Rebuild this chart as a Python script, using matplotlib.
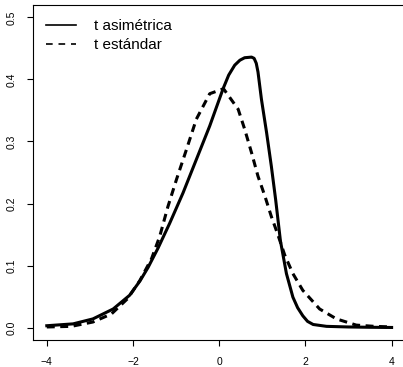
import matplotlib
matplotlib.use("Agg")
import matplotlib.pyplot as plt

# valores
x_asim = [-4.0, -3.39, -2.93, -2.46, -2.08, -1.84, -1.65, -1.42, -1.15, -0.84,
          -0.53, -0.22, 0.09, 0.22, 0.36, 0.48, 0.59, 0.75, 0.81, 0.86,
          0.90, 0.98, 1.10, 1.21, 1.31, 1.42, 1.56, 1.71, 1.82, 1.94,
          2.05, 2.18, 2.49, 3.0, 3.5, 4.0]
y_asim = [0.003, 0.006, 0.014, 0.030, 0.052, 0.075, 0.097, 0.128, 0.168, 0.217,
          0.271, 0.325, 0.385, 0.407, 0.423, 0.431, 0.435, 0.436, 0.434, 0.426,
          0.412, 0.368, 0.314, 0.260, 0.206, 0.140, 0.087, 0.049, 0.032, 0.019,
          0.010, 0.005, 0.002, 0.001, 0.0005, 0.0002]

x_std = [-4.0, -3.43, -2.93, -2.50, -2.12, -1.84, -1.57, -1.38, -1.19, -0.99,
         -0.76, -0.53, -0.22, 0.10, 0.44, 0.59, 0.75, 0.90, 1.06, 1.21,
         1.36, 1.52, 1.71, 1.94, 2.33, 2.72, 3.18, 3.6, 4.0]
y_std = [0.001, 0.002, 0.009, 0.022, 0.047, 0.076, 0.111, 0.147, 0.195, 0.239,
         0.287, 0.336, 0.377, 0.385, 0.352, 0.320, 0.282, 0.244, 0.212, 0.179,
         0.150, 0.117, 0.087, 0.060, 0.030, 0.014, 0.004, 0.002, 0.001]

xticks = [-4, -2, 0, 2, 4]
yticks = [0.0, 0.1, 0.2, 0.3, 0.4, 0.5]

plt.rcParams['font.family'] = ['Liberation Sans', 'DejaVu Sans']

fig = plt.figure(figsize=(4.03, 3.67), dpi=100)
ax = fig.add_axes([33/403, 27/367, 372.4/403, 335/367])

ax.plot(x_asim, y_asim, color='black', lw=2.2, solid_joinstyle='round',
        label='t asimétrica')
ax.plot(x_std, y_std, color='black', lw=2.2, ls=(0, (2.6, 1.8)), label='t estándar')

ax.set_xlim(-4.32, 4.32)
ax.set_ylim(-0.02, 0.52)
ax.set_xticks(xticks)
ax.set_xticklabels([str(t).replace('-', '\u2212') for t in xticks])
ax.set_yticks(yticks)
ax.set_yticklabels(['%.1f' % t for t in yticks], rotation=90, va='center')
ax.tick_params(direction='out', length=4, width=0.8, labelsize=7.5, pad=8)
for s in ax.spines.values():
    s.set_linewidth(0.8)

leg = ax.legend(loc='upper left', frameon=False, fontsize=11, handlelength=2.0,
                handletextpad=1.2, labelspacing=0.35, borderaxespad=0.3,
                bbox_to_anchor=(0.005, 0.99))
for ln in leg.get_lines():
    ln.set_linewidth(1.2)
leg.get_lines()[1].set_linestyle((0, (4, 3.5)))

fig.savefig('out.png', dpi=100)
